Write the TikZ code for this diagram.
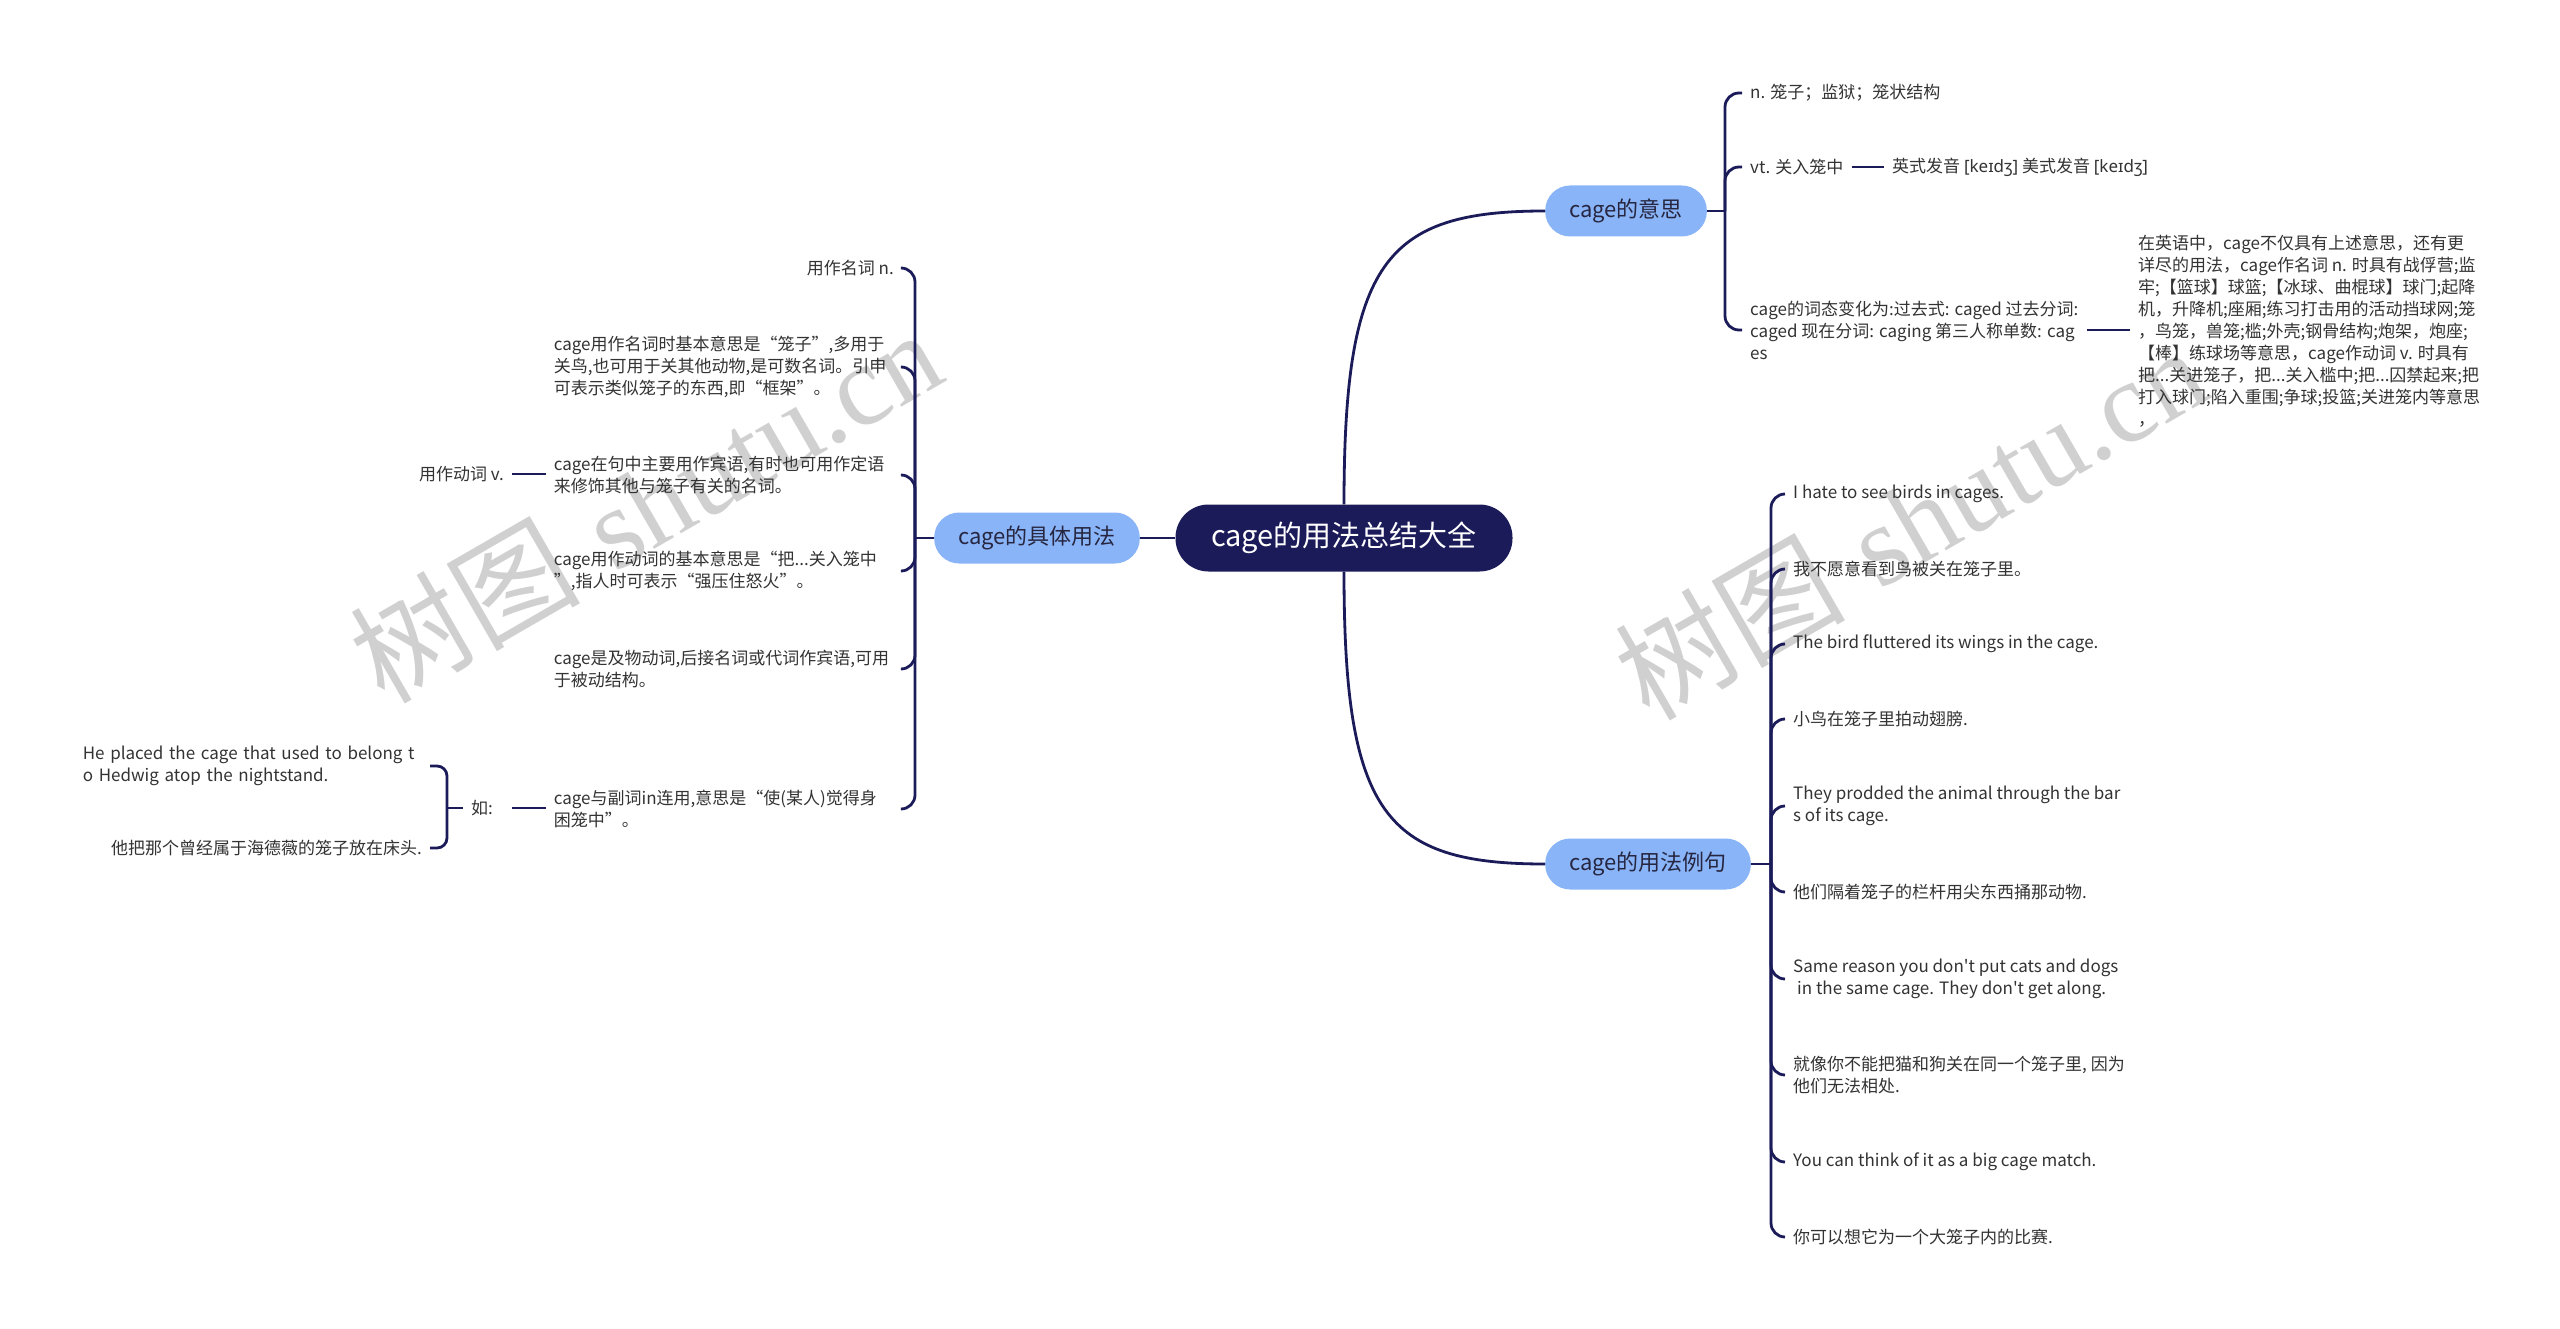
\documentclass[tikz,border=0pt]{standalone}
\usepackage{fontspec}
\newfontfamily\cjk{Noto Sans CJK SC}
\newfontfamily\ipa{Noto Sans}
\newfontfamily\wmserif{Liberation Serif}
\definecolor{navy}{RGB}{27,27,90}
\definecolor{lblue}{RGB}{138,180,248}
\definecolor{btxt}{RGB}{38,38,64}
\definecolor{ltxt}{RGB}{51,51,51}
\definecolor{wm}{RGB}{208,208,208}
\begin{document}
\begin{tikzpicture}[x=1pt,y=-1pt,
  conn/.style={draw=navy,line width=2.8pt},
  hook/.style={conn,rounded corners=14pt},
  rootbox/.style={fill=navy,text=white,rounded corners=33pt,minimum height=67pt,minimum width=337pt,font=\cjk\fontsize{29}{34}\selectfont,inner sep=0pt},
  branch/.style={fill=lblue,text=btxt,rounded corners=25pt,minimum height=51pt,inner xsep=24pt,font=\cjk\fontsize{22}{26}\selectfont},
  leaf/.style={text=ltxt,font=\cjk\fontsize{17}{22}\selectfont,inner xsep=8pt,inner ysep=2pt,align=left},
  wmark/.style={rotate=30,text=wm,font=\fontsize{115}{115}\selectfont,inner sep=0pt}
]
\useasboundingbox (0,0) rectangle (2560,1329);
\fill[white] (0,0) rectangle (2560,1329);

% watermarks
\node[wmark] (wm1) at (645,505) {{\cjk 树图} {\wmserif shutu.cn}};
\node[wmark] (wm2) at (1910,522) {{\cjk 树图} {\wmserif shutu.cn}};

% main nodes
\node[rootbox] (root) at (1344,538) {cage的用法总结大全};
\node[branch,anchor=west] (b1) at (1545,211) {cage的意思};
\node[branch,anchor=east] (b2) at (1140,538) {cage的具体用法};
\node[branch,anchor=west] (b3) at (1545,864) {cage的用法例句};

% cage的意思 children
\node[leaf,anchor=west] (m1) at (1742,93) {n. 笼子；监狱；笼状结构};
\node[leaf,anchor=west] (m2) at (1742,167) {vt. 关入笼中};
\node[leaf,anchor=west] (m2a) at (1884,167) {英式发音 {\ipa[keɪdʒ]} 美式发音 {\ipa[keɪdʒ]}};
\node[leaf,anchor=west] (m3) at (1742,330) {cage的词态变化为:过去式: caged 过去分词:\\caged 现在分词: caging 第三人称单数: cag\\es};
\node[leaf,anchor=west] (m3a) at (2130,331) {在英语中，cage不仅具有上述意思，还有更\\详尽的用法，cage作名词 n. 时具有战俘营;监\\牢;【篮球】球篮;【冰球、曲棍球】球门;起降\\机，升降机;座厢;练习打击用的活动挡球网;笼\\，鸟笼，兽笼;槛;外壳;钢骨结构;炮架，炮座;\\【棒】练球场等意思，cage作动词 v. 时具有\\把...关进笼子，把...关入槛中;把...囚禁起来;把\\打入球门;陷入重围;争球;投篮;关进笼内等意思\\，};

% cage的用法例句 children
\node[leaf,anchor=west] (r1) at (1785,494) {I hate to see birds in cages.};
\node[leaf,anchor=west] (r2) at (1785,569) {我不愿意看到鸟被关在笼子里。};
\node[leaf,anchor=west] (r3) at (1785,644) {The bird fluttered its wings in the cage.};
\node[leaf,anchor=west] (r4) at (1785,719) {小鸟在笼子里拍动翅膀.};
\node[leaf,anchor=west] (r5) at (1785,806) {They prodded the animal through the bar\\s of its cage.};
\node[leaf,anchor=west] (r6) at (1785,892) {他们隔着笼子的栏杆用尖东西捅那动物.};
\node[leaf,anchor=west] (r7) at (1785,979) {Same reason you don't put cats and dogs\\\hspace*{4pt}in the same cage. They don't get along.};
\node[leaf,anchor=west] (r8) at (1785,1075) {就像你不能把猫和狗关在同一个笼子里, 因为\\他们无法相处.};
\node[leaf,anchor=west] (r9) at (1785,1162) {You can think of it as a big cage match.};
\node[leaf,anchor=west] (r10) at (1785,1237) {你可以想它为一个大笼子内的比赛.};

% cage的具体用法 children
\node[leaf,anchor=east] (u1) at (902,268) {用作名词 n.};
\node[leaf,anchor=east,text width=340pt] (u2) at (902,367) {cage用作名词时基本意思是“笼子”,多用于\\关鸟,也可用于关其他动物,是可数名词。引申\\可表示类似笼子的东西,即“框架”。};
\node[leaf,anchor=east,text width=340pt] (u3) at (902,475) {cage在句中主要用作宾语,有时也可用作定语\\来修饰其他与笼子有关的名词。};
\node[leaf,anchor=east,text width=340pt] (u4) at (902,571) {cage用作动词的基本意思是“把...关入笼中\\”,指人时可表示“强压住怒火”。};
\node[leaf,anchor=east,text width=340pt] (u5) at (902,669) {cage是及物动词,后接名词或代词作宾语,可用\\于被动结构。};
\node[leaf,anchor=east,text width=340pt] (u6) at (902,809) {cage与副词in连用,意思是“使(某人)觉得身\\困笼中”。};
\node[leaf,anchor=east] (v) at (512,474) {用作动词 v.};
\node[leaf,anchor=east] (ru) at (501,808) {如:};
\node[leaf,anchor=east,text width=339pt] (he) at (430,766) {He placed the cage that used to belong t\\o Hedwig atop the nightstand.};
\node[leaf,anchor=east] (ta) at (430,848) {他把那个曾经属于海德薇的笼子放在床头.};

% connectors
\draw[conn] (root.west) -- (b2.east);
\draw[conn] (root.north) .. controls (1344,262) and (1385,211) .. (b1.west);
\draw[conn] (root.south) .. controls (1344,814) and (1385,864) .. (b3.west);

\coordinate (s1) at (1725,211);
\draw[conn] (b1.east) -- (s1);
\foreach \n in {m1,m2,m3} \draw[hook] (s1) |- (\n.west);
\draw[conn] (m2.east) -- (m2a.west);
\draw[conn] (m3.east) -- (m3.east -| m3a.west);

\coordinate (s3) at (1771,864);
\draw[conn] (b3.east) -- (s3);
\foreach \n in {r1,r2,r3,r4,r5,r6,r7,r8,r9,r10} \draw[hook] (s3) |- (\n.west);

\coordinate (s2) at (915,538);
\draw[conn] (b2.west) -- (s2);
\foreach \n in {u1,u2,u3,u4,u5,u6} \draw[hook] (s2) |- (\n.east);
\draw[conn] (v.east) -- (v.east -| u3.west);
\draw[conn,shorten <=11pt] (ru.east) -- (ru.east -| u6.west);

\coordinate (s4) at (447,808);
\draw[conn] (ru.west) -- (s4);
\draw[hook,rounded corners=10pt] (s4) |- (he.east);
\draw[hook,rounded corners=10pt] (s4) |- (ta.east);
\end{tikzpicture}
\end{document}
